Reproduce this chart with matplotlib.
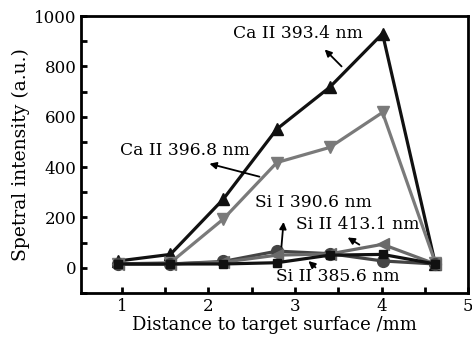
import matplotlib
matplotlib.use("Agg")
import matplotlib.pyplot as plt
from matplotlib.ticker import MultipleLocator

plt.rcParams['font.family'] = ['DejaVu Serif']

# distance to target surface (mm)
distance = [0.96, 1.56, 2.17, 2.79, 3.40, 4.01, 4.62]

# spectral intensity (a.u.)
ca_3934 = [27, 53, 272, 551, 717, 930, 15]
ca_3968 = [15, 20, 193, 418, 478, 617, 20]
si_3906 = [15, 15, 25, 66, 56, 27, 15]
si_4131 = [15, 15, 22, 50, 55, 93, 15]
si_3856 = [15, 15, 15, 20, 50, 53, 15]

fig = plt.figure(figsize=(4.72, 3.41), dpi=100)
ax = fig.add_axes([0.172, 0.141, 0.82, 0.812])

ax.plot(distance, ca_3934, color='#111111', lw=2.3, marker='^', ms=8.5)
ax.plot(distance, ca_3968, color='#7a7a7a', lw=2.3, marker='v', ms=8.5)
ax.plot(distance, si_3906, color='#444444', lw=2.3, marker='o', ms=8.5)
ax.plot(distance, si_4131, color='#6a6a6a', lw=2.3, marker='<', ms=8.5)
ax.plot(distance, si_3856, color='#111111', lw=2.3, marker='s', ms=6)

# labels with arrows: (text, text pos, arrow head, arrow tail)
labels = [
    ("Ca II 393.4 nm", (3.03, 930), (3.32, 875), (3.56, 792)),
    ("Ca II 396.8 nm", (1.73, 465), (1.98, 416), (2.62, 359)),
    ("Si I 390.6 nm", (3.21, 259), (2.87, 193), (2.84, 73)),
    ("Si II 413.1 nm", (3.72, 170), (3.58, 126), (3.77, 86)),
    ("Si II 385.6 nm", (3.49, -35), (3.13, 34), (3.26, -6)),
]
for txt, pos, head, tail in labels:
    ax.text(pos[0], pos[1], txt, fontsize=12.3, ha='center', va='center')
    ax.annotate('', xy=head, xytext=tail,
                arrowprops=dict(arrowstyle='-|>', color='black', lw=1.3,
                                mutation_scale=10))

ax.set_xlim(0.53, 5.0)
ax.set_ylim(-100, 1000)
ax.xaxis.set_major_locator(MultipleLocator(1))
ax.xaxis.set_minor_locator(MultipleLocator(0.5))
ax.yaxis.set_major_locator(MultipleLocator(200))
ax.yaxis.set_minor_locator(MultipleLocator(100))
ax.tick_params(which='both', direction='in', width=2, length=4, labelsize=12)
ax.tick_params(which='both', top=False, right=False)
for s in ax.spines.values():
    s.set_linewidth(2)

ax.set_xlabel("Distance to target surface /mm", fontsize=13, labelpad=1)
ax.set_ylabel("Spetral intensity (a.u.)", fontsize=13.5, labelpad=3)

fig.savefig("out.png", dpi=100)
